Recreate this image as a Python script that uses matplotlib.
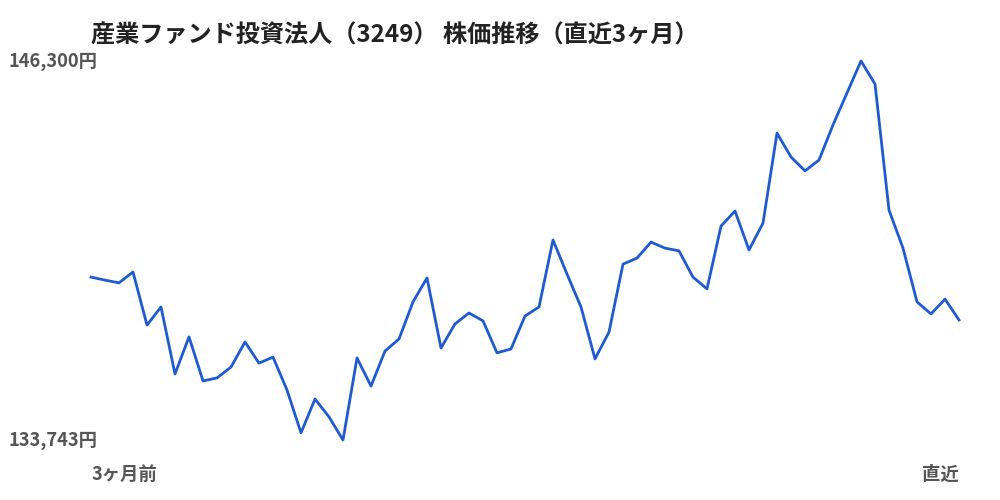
import matplotlib
matplotlib.use("Agg")
import matplotlib.pyplot as plt
import numpy as np

plt.rcParams['font.family'] = ['Noto Sans CJK JP', 'DejaVu Sans']

title = "産業ファンド投資法人（3249） 株価推移（直近3ヶ月）"
start_label = "3ヶ月前"
end_label = "直近"

# daily closing prices over the last 3 months
prices = [
    139140, 139040, 138950, 139310, 137550, 138150, 135930, 137160, 135700, 135800,
    136160, 136990, 136290, 136490, 135400, 133980, 135100, 134510, 133743, 136460,
    135530, 136690, 137090, 138320, 139110, 136790, 137590, 137950, 137690, 136630,
    136760, 137850, 138150, 140370, 139240, 138150, 136430, 137320, 139570, 139770,
    140300, 140100, 140010, 139140, 138750, 140830, 141330, 140040, 140930, 143910,
    143120, 142660, 143020, 144180, 145240, 146300, 145540, 141360, 140100, 138320,
    137920, 138410, 137720,
]

days = np.arange(len(prices))
lo, hi = min(prices), max(prices)

fig = plt.figure(figsize=(10, 5), dpi=100)
ax = fig.add_axes([0.091, 0.12, 0.868, 0.758])
ax.plot(days, prices, color='#1f5bd0', linewidth=2.0, clip_on=False)
ax.set_xlim(0, len(prices) - 1)
ax.set_ylim(lo, hi)
ax.axis('off')

fig.text(0.091, 0.929, title, fontsize=17.4, fontweight='bold', color='#222222',
         ha='left', va='center')
fig.text(0.098, 0.877, f"{hi:,}円", fontsize=13.2, fontweight='bold',
         color='#555555', ha='right', va='center')
fig.text(0.098, 0.118, f"{lo:,}円", fontsize=13.2, fontweight='bold',
         color='#555555', ha='right', va='center')
fig.text(0.091, 0.052, start_label, fontsize=13.2, fontweight='bold',
         color='#555555', ha='left', va='center')
fig.text(0.959, 0.052, end_label, fontsize=13.2, fontweight='bold',
         color='#555555', ha='right', va='center')

fig.savefig('out.png', dpi=100, facecolor='white')
